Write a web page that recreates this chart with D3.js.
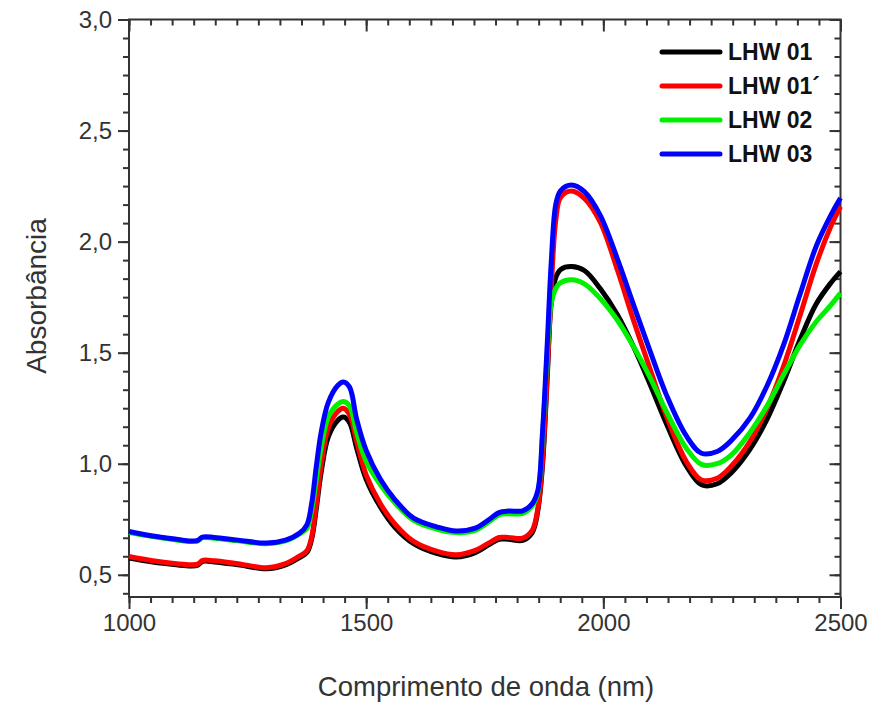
<!DOCTYPE html>
<html>
<head>
<meta charset="utf-8">
<script src="https://cdn.jsdelivr.net/npm/d3@7"></script>
<style>
  body { margin: 0; background: #fff; }
  text { font-family: "Liberation Sans", Arial, sans-serif; }
</style>
</head>
<body>
<script>
// wavelengths (nm)
const wavelengths = [
  1000, 1050, 1100, 1130, 1145, 1155, 1180, 1230, 1290, 1330,
  1360, 1375, 1385, 1395, 1405, 1420, 1440, 1452, 1465, 1480,
  1500, 1530, 1560, 1600, 1650, 1690, 1730, 1760, 1780, 1800,
  1830, 1850, 1862, 1872, 1882, 1890, 1900, 1910, 1933, 1960,
  1993, 2030, 2063, 2098, 2133, 2175, 2207, 2240, 2270, 2309,
  2345, 2380, 2415, 2449, 2480, 2500
];

const lhw01 = [
  0.575, 0.557, 0.545, 0.540, 0.543, 0.560, 0.558, 0.545, 0.527, 0.545,
  0.578, 0.600, 0.660, 0.800, 0.960, 1.120, 1.195, 1.210, 1.185, 1.070,
  0.930, 0.805, 0.715, 0.640, 0.595, 0.580, 0.600, 0.637, 0.660, 0.660,
  0.655, 0.690, 0.790, 1.000, 1.400, 1.720, 1.840, 1.875, 1.888, 1.870,
  1.790, 1.670, 1.530, 1.360, 1.180, 0.990, 0.905, 0.910, 0.960, 1.065,
  1.200, 1.370, 1.560, 1.720, 1.815, 1.865
];

const lhw01b = [
  0.582, 0.563, 0.550, 0.545, 0.548, 0.565, 0.563, 0.550, 0.532, 0.550,
  0.585, 0.608, 0.670, 0.820, 0.990, 1.160, 1.235, 1.250, 1.220, 1.100,
  0.950, 0.820, 0.730, 0.650, 0.605, 0.590, 0.610, 0.645, 0.668, 0.668,
  0.665, 0.700, 0.800, 1.020, 1.420, 1.780, 2.100, 2.200, 2.228, 2.195,
  2.090, 1.870, 1.650, 1.430, 1.215, 1.010, 0.927, 0.935, 0.990, 1.100,
  1.250, 1.440, 1.670, 1.900, 2.070, 2.158
];

const lhw02 = [
  0.690, 0.672, 0.657, 0.650, 0.652, 0.667, 0.665, 0.653, 0.640, 0.653,
  0.685, 0.708, 0.790, 0.930, 1.070, 1.210, 1.268, 1.280, 1.260, 1.140,
  1.010, 0.905, 0.825, 0.745, 0.705, 0.690, 0.700, 0.740, 0.770, 0.775,
  0.776, 0.810, 0.870, 1.130, 1.500, 1.720, 1.790, 1.815, 1.828, 1.810,
  1.745, 1.645, 1.530, 1.390, 1.235, 1.070, 0.997, 1.000, 1.040, 1.140,
  1.260, 1.400, 1.535, 1.640, 1.715, 1.768
];

const lhw03 = [
  0.695, 0.675, 0.660, 0.652, 0.655, 0.670, 0.668, 0.656, 0.643, 0.656,
  0.688, 0.725, 0.820, 0.990, 1.140, 1.275, 1.352, 1.368, 1.345, 1.200,
  1.060, 0.930, 0.840, 0.755, 0.715, 0.697, 0.710, 0.750, 0.780, 0.787,
  0.788, 0.820, 0.880, 1.150, 1.550, 1.900, 2.170, 2.230, 2.255, 2.225,
  2.120, 1.920, 1.720, 1.510, 1.310, 1.125, 1.047, 1.055, 1.105, 1.205,
  1.350, 1.535, 1.765, 1.980, 2.120, 2.196
];

const seriesNames = ["LHW 01", "LHW 01´", "LHW 02", "LHW 03"];
const seriesValues = [lhw01, lhw01b, lhw02, lhw03];
const seriesColors = ["#000000", "#ff0000", "#00f000", "#0000ff"];

const xTicks = [1000, 1500, 2000, 2500];
const yTicks = [0.5, 1.0, 1.5, 2.0, 2.5, 3.0];

const width = 885, height = 705;
const plotLeft = 129, plotRight = 840.5, plotTop = 19.5, plotBottom = 597;

const svg = d3.select("body").append("svg")
    .attr("width", width)
    .attr("height", height);

const x = d3.scaleLinear().domain([1000, 2500]).range([plotLeft, plotRight]);
const y = d3.scaleLinear().domain([0.4, 3.0]).range([plotBottom, plotTop]);

// minor ticks: 10 between x majors, 5 between y majors
const xMinor = d3.range(0, 34).map(i => 1000 + i * 500 / 11).filter(v => v <= 2500.01);
const yMinor = d3.range(0, 32).map(i => 0.5 - 0.5 / 6 + i * 0.5 / 6).filter(v => v >= 0.4 && v <= 3.0001);

const fmt = d => d3.format(".1f")(d).replace(".", ",");

function styleAxis(g) {
  g.select(".domain").remove();
  g.selectAll("line").attr("stroke", "#333").attr("stroke-width", 2);
  g.selectAll("text").attr("fill", "#333").style("font-size", "24px");
}

// bottom axis
svg.append("g").attr("transform", `translate(0,${plotBottom})`)
  .call(d3.axisBottom(x).tickValues(xMinor).tickSize(6).tickFormat(""))
  .call(styleAxis);
svg.append("g").attr("transform", `translate(0,${plotBottom})`)
  .call(d3.axisBottom(x).tickValues(xTicks).tickSize(12).tickPadding(5).tickFormat(d3.format("d")))
  .call(styleAxis);

// top axis (inward ticks)
svg.append("g").attr("transform", `translate(0,${plotTop})`)
  .call(d3.axisTop(x).tickValues(xMinor).tickSize(-6).tickFormat(""))
  .call(styleAxis);
svg.append("g").attr("transform", `translate(0,${plotTop})`)
  .call(d3.axisTop(x).tickValues(xTicks).tickSize(-12).tickFormat(""))
  .call(styleAxis);

// left axis
svg.append("g").attr("transform", `translate(${plotLeft},0)`)
  .call(d3.axisLeft(y).tickValues(yMinor).tickSize(6).tickFormat(""))
  .call(styleAxis);
svg.append("g").attr("transform", `translate(${plotLeft},0)`)
  .call(d3.axisLeft(y).tickValues(yTicks).tickSize(11).tickPadding(6).tickFormat(fmt))
  .call(styleAxis);

// right axis (inward ticks)
svg.append("g").attr("transform", `translate(${plotRight},0)`)
  .call(d3.axisRight(y).tickValues(yMinor).tickSize(-6).tickFormat(""))
  .call(styleAxis);
svg.append("g").attr("transform", `translate(${plotRight},0)`)
  .call(d3.axisRight(y).tickValues(yTicks).tickSize(-11).tickFormat(""))
  .call(styleAxis);

// frame
svg.append("rect")
    .attr("x", plotLeft).attr("y", plotTop)
    .attr("width", plotRight - plotLeft).attr("height", plotBottom - plotTop)
    .attr("fill", "none").attr("stroke", "#333").attr("stroke-width", 2);

// curves
const line = d3.line()
    .x(d => x(d[0]))
    .y(d => y(d[1]))
    .curve(d3.curveCatmullRom.alpha(0.5));

seriesValues.forEach((vals, i) => {
  svg.append("path")
      .datum(wavelengths.map((w, j) => [w, vals[j]]))
      .attr("fill", "none")
      .attr("stroke", seriesColors[i])
      .attr("stroke-width", 5)
      .attr("stroke-linejoin", "round")
      .attr("d", line);
});

// legend
const legend = svg.append("g");
seriesNames.forEach((name, i) => {
  const ly = 52 + i * 34;
  legend.append("line")
      .attr("x1", 662).attr("x2", 720)
      .attr("y1", ly).attr("y2", ly)
      .attr("stroke", seriesColors[i])
      .attr("stroke-width", 5)
      .attr("stroke-linecap", "round");
  legend.append("text")
      .attr("x", 728).attr("y", ly + 8)
      .attr("fill", "#111")
      .style("font-size", "23px")
      .style("font-weight", "bold")
      .text(name);
});

// axis titles
svg.append("text")
    .attr("x", 486).attr("y", 696)
    .attr("text-anchor", "middle")
    .attr("fill", "#333")
    .style("font-size", "27.5px")
    .text("Comprimento de onda (nm)");

svg.append("text")
    .attr("transform", "translate(46,296) rotate(-90)")
    .attr("text-anchor", "middle")
    .attr("fill", "#333")
    .style("font-size", "28px")
    .text("Absorbância");
</script>
</body>
</html>
